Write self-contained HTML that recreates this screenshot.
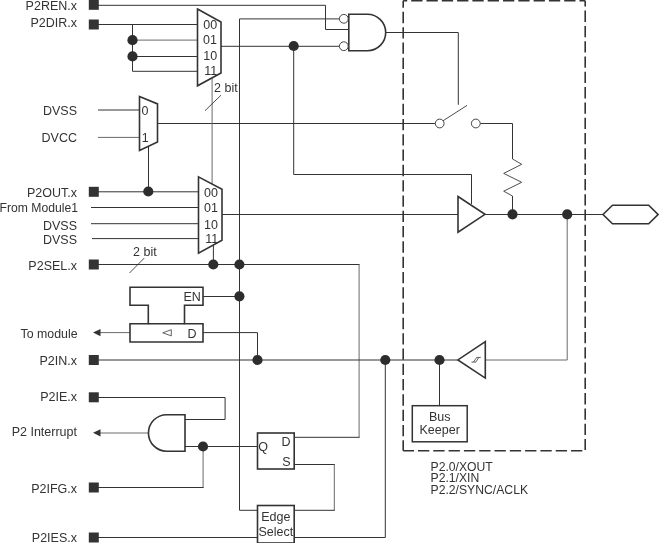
<!DOCTYPE html>
<html><head><meta charset="utf-8">
<style>
html,body{margin:0;padding:0;background:#fff;}
svg{display:block;will-change:transform;}
text{font-family:"Liberation Sans",sans-serif;font-size:12.5px;fill:#333;}
.l{stroke:#333;stroke-width:1;fill:none;}
.g{stroke:#6a6a6a !important;}
.t{stroke:#3a3a3a;stroke-width:0.9;fill:none;}
.c{stroke:#444;stroke-width:1;fill:#fff;}
.s{stroke:#333;stroke-width:1.6;fill:#fff;stroke-linejoin:miter;}
.d{fill:#2d2d2d;stroke:none;}
.p{fill:#333;stroke:none;}
.da{stroke:#333;stroke-width:1.6;fill:none;stroke-dasharray:11.3 4;}
.r{text-anchor:end;}
.m{text-anchor:middle;}
</style></head><body>
<svg width="659" height="543" viewBox="0 0 659 543">
<rect width="659" height="543" fill="#fff"/>

<!-- wires -->
<g class="l">
<path d="M98 5.3H325.5V29.5H348.8"/>
<path d="M98 24.5H197.5"/>
<path d="M132.5 24.5V71.3H197.5"/>
<path d="M132.5 40.1H197.5" class="g"/>
<path d="M132.5 56.5H197.5"/>
<path d="M221 46.3H339"/>
<path d="M239.5 510.3V18.9"/><path d="M239.5 18.9H339"/>
<path d="M293.7 46.3V174.5H471.5V204"/>
<path d="M98 110H139.5"/>
<path d="M98 137.4H139.5" class="g"/>
<path d="M157.5 123.5H435.2"/>
<path d="M148.5 147V191.7"/>
<path d="M98 191.8H198.5"/>
<path d="M91 207.5H198.5"/>
<path d="M91 223.7H198.5"/>
<path d="M92 238.6H198.5"/>
<path d="M222 214.5H458"/>
<path d="M485 214.5H603"/>
<path d="M212.1 78V184" class="g"/>
<path d="M213.4 245V264.5"/>
<path d="M98 264.5H359.6"/><path d="M359.1 264.5V437.3" class="g"/><path d="M359.6 437.3H294"/>
<path d="M385.5 32.5H458.3V104.8"/>
<path d="M480.2 123.5H512.5V159"/>
<path d="M512.5 196V214.5"/>
<path d="M567.2 214.5V360H485.5" class="g"/>
<path d="M98 360H457.5"/>
<path d="M203 296.5H239.5"/>
<path d="M203 332.6H257.5V360"/>
<path d="M130 332.6H99" class="g"/>
<path d="M98 397.5H225.1V419.5H185"/>
<path d="M148.4 433H99" class="g"/>
<path d="M185 446.5H257.5"/>
<path d="M203.1 446.5V487.5" class="g"/><path d="M203.6 487.5H98"/>
<path d="M239.5 510.3H257.5"/>
<path d="M294 464.5H334.8"/><path d="M334.3 464.5V510.3" class="g"/><path d="M334.8 510.3H294"/>
<path d="M98 537.5H257.5"/>
<path d="M294 537.5H385.3V360"/>
<path d="M439.5 360V405.7"/>
</g>
<g class="t">
<path d="M205 110.7L221 95.2"/>
<path d="M129.5 273L144.3 258"/>
<path d="M443 120.8L467 105.4"/>
<path d="M512.5 159L521.7 164.3L503.7 173.4L521.7 182.3L503.7 191.2L512.5 196"/>
</g>

<!-- dashed box -->
<g class="da">
<path d="M403.2 0.8H585.2" stroke-dashoffset="7.3"/>
<path d="M585.2 0.8V450" stroke-dashoffset="5.5"/>
<path d="M403.2 450.7H583" stroke-dashoffset="0.5"/>
<path d="M403.2 0.8V450.7" stroke-dashoffset="4.25"/>
</g>

<!-- shapes -->
<path class="s" d="M197.5 9L221 22V73L197.5 85.8Z"/>
<path class="s" d="M198.5 176.9L222 189.3V240.3L198.5 253.1Z"/>
<path class="s" d="M139.5 96.4L157.5 103.9V142L139.5 150.4Z"/>
<path class="s" d="M348.8 14.2H367.4A18.3 18.3 0 0 1 367.4 50.8H348.8Z"/>
<circle class="c" cx="343.8" cy="18.8" r="4.4"/>
<circle class="c" cx="343.8" cy="46.2" r="4.4"/>
<circle class="c" cx="439.7" cy="123.5" r="4.4"/>
<circle class="c" cx="475.8" cy="123.5" r="4.4"/>
<path class="s" d="M458 196.5L485 214.3L458 232.2Z"/>
<path class="s" d="M603 214.5L612.5 205.3H648.7L658 214.5L648.7 223.7H612.5Z"/>
<path class="s" d="M485.3 341.6L457.9 359.9L485.3 378.1Z"/>
<path class="t" d="M471.5 362.1H475.9L478.8 357.4H480.8M473.5 362.1L476.7 357.4H478.8" style="stroke-width:0.8"/>
<path class="s" d="M130 287.3H203V305.3H184.5V323.8H203V342H130V323.8H148.3V305.3H130Z"/>
<path d="M148.3 323.8H184.5" style="stroke-width:1.6;stroke:#333" fill="none"/>
<path class="t" d="M171.3 329.7L162.8 332.8L171.3 335.9Z" style="stroke-width:0.8"/>
<path class="s" d="M185 414.7H166.7A18.25 18.25 0 0 0 166.7 451.2H185Z"/>
<rect class="s" x="257.5" y="433" width="36.7" height="36"/>
<rect class="s" x="257.5" y="505.5" width="36.7" height="37.5"/>
<rect class="s" x="412.3" y="405.7" width="54.9" height="36.1" style="stroke-width:1.5"/>

<!-- arrows -->
<path class="p" d="M93 332.6L100.5 329V336.2Z"/>
<path class="p" d="M93 432.8L100.5 429.2V436.4Z"/>

<!-- pins -->
<g class="p">
<rect x="88.8" y="-0.2" width="10" height="10"/>
<rect x="88.8" y="19.5" width="10" height="10"/>
<rect x="88.8" y="186.8" width="10" height="10"/>
<rect x="88.8" y="259.5" width="10" height="10"/>
<rect x="88.8" y="355" width="10" height="10"/>
<rect x="88.8" y="392.3" width="10" height="10"/>
<rect x="88.8" y="482.5" width="10" height="10"/>
<rect x="88.8" y="532.5" width="10" height="10"/>
</g>

<!-- dots -->
<g class="d">
<circle cx="132.5" cy="40.2" r="5.1"/>
<circle cx="132.5" cy="56.4" r="5.1"/>
<circle cx="293.7" cy="46" r="5.1"/>
<circle cx="148.3" cy="191.5" r="5.1"/>
<circle cx="213.3" cy="264.5" r="5.1"/>
<circle cx="239.4" cy="264.5" r="5.1"/>
<circle cx="512.5" cy="214.3" r="5.1"/>
<circle cx="567.2" cy="214.3" r="5.1"/>
<circle cx="239.4" cy="296.3" r="5.1"/>
<circle cx="257.5" cy="360" r="5.1"/>
<circle cx="385.3" cy="360" r="5.1"/>
<circle cx="439.5" cy="360" r="5.1"/>
<circle cx="203" cy="446.5" r="5.1"/>
</g>

<!-- text -->
<text class="r" x="77" y="9.5">P2REN.x</text>
<text class="r" x="77" y="26.5">P2DIR.x</text>
<text class="r" x="77" y="114.8">DVSS</text>
<text class="r" x="77" y="141.5">DVCC</text>
<text class="r" x="77" y="196.8">P2OUT.x</text>
<text x="-0.4" y="211.5" textLength="78.4" lengthAdjust="spacingAndGlyphs">From Module1</text>
<text class="r" x="77" y="229.8">DVSS</text>
<text class="r" x="77" y="243.5">DVSS</text>
<text class="r" x="77" y="269.8">P2SEL.x</text>
<text class="r" x="77.6" y="337.7" textLength="57" lengthAdjust="spacingAndGlyphs">To module</text>
<text class="r" x="77" y="364.5">P2IN.x</text>
<text class="r" x="77" y="400.7">P2IE.x</text>
<text class="r" x="77" y="436">P2 Interrupt</text>
<text class="r" x="77" y="492.5">P2IFG.x</text>
<text class="r" x="77" y="541.7">P2IES.x</text>

<text x="203.3" y="28.5">00</text>
<text x="203" y="44">01</text>
<text x="203.3" y="60.3">10</text>
<text x="204.3" y="74.6">11</text>
<text x="204" y="196.5">00</text>
<text x="204" y="211.5">01</text>
<text x="204" y="228.8">10</text>
<text x="205.3" y="242.8">11</text>
<text x="141.5" y="114.9">0</text>
<text x="141.7" y="141.7">1</text>
<text x="214" y="91.7">2 bit</text>
<text x="133" y="255.8">2 bit</text>
<text x="183.5" y="300.7">EN</text>
<text x="187.5" y="337.5">D</text>
<text x="258.3" y="451">Q</text>
<text x="281.5" y="445.5">D</text>
<text x="282.3" y="466">S</text>
<text class="m" x="275.8" y="520.5">Edge</text>
<text class="m" x="275.8" y="535.5">Select</text>
<text class="m" x="439.7" y="420.5">Bus</text>
<text class="m" x="439.7" y="433.7">Keeper</text>
<text x="430.5" y="470.5" style="font-size:12.2px">P2.0/XOUT</text>
<text x="430.5" y="482" style="font-size:12.2px">P2.1/XIN</text>
<text x="430.5" y="493.5" style="font-size:12.2px">P2.2/SYNC/ACLK</text>
</svg>
</body></html>
